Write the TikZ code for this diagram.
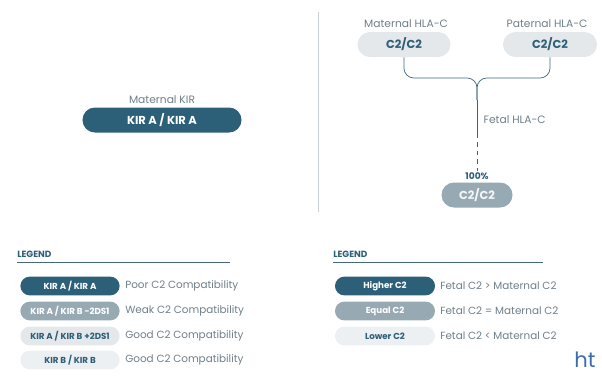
\documentclass[tikz,border=0pt]{standalone}
\usepackage{fontspec}
\setmainfont{Poppins}
\usetikzlibrary{shapes.misc}

\definecolor{teal}{HTML}{2C5F78}
\definecolor{midgray}{HTML}{97A9B3}
\definecolor{lightgray}{HTML}{E4E8EB}
\definecolor{palegray}{HTML}{EDF0F2}
\definecolor{textgray}{HTML}{6F7F89}
\definecolor{rulegray}{HTML}{C9D1D6}
\definecolor{linkblue}{HTML}{3C6EAE}

\tikzset{
	pill/.style = {rounded rectangle, inner sep=0pt, font=\bfseries},
	bigpill/.style = {pill, minimum height=0.625cm, font=\fontsize{8.2}{9}\selectfont\bfseries},
	keypill/.style = {pill, minimum height=0.47cm, minimum width=2.48cm, font=\fontsize{6.2}{7}\selectfont\bfseries},
	caption/.style = {text=textgray, font=\fontsize{7.6}{9}\selectfont, inner sep=1pt},
	keytext/.style = {text=textgray, font=\fontsize{7.4}{9}\selectfont, anchor=west, inner sep=0pt},
	keyhead/.style = {text=teal, font=\fontsize{6.4}{7}\selectfont\bfseries, anchor=south west, inner sep=0pt},
	link/.style = {draw=teal!80!gray, line width=0.5pt}
}

\begin{document}
\begin{tikzpicture}[x=0.025cm, y=-0.025cm]
	\useasboundingbox (0,0) rectangle (602,376);

	% maternal KIR
	\node[caption] (kirlabel) at (162,100) {Maternal KIR};
	\node[bigpill, fill=teal, text=white, minimum width=3.975cm] (kir) at (162,120) {KIR A / KIR A};

	% divider
	\draw[rulegray, line width=0.6pt] (318,12) -- (318,212);

	% parental HLA-C
	\node[caption] (mlabel) at (406,24) {Maternal HLA-C};
	\node[bigpill, fill=lightgray, text=teal, minimum width=2.325cm] (mhla) at (404,44.5) {C2/C2};
	\node[caption] (plabel) at (547,24) {Paternal HLA-C};
	\node[bigpill, fill=lightgray, text=teal, minimum width=2.35cm] (phla) at (550,44.5) {C2/C2};

	\coordinate (split) at (477,78);
	\coordinate (fork) at (477,100);
	\coordinate (dashtop) at (477,134);
	\draw[link, rounded corners=7pt] (mhla.south) |- (split) -- (fork);
	\draw[link, rounded corners=7pt] (phla.south) |- (split) -- (fork);
	\draw[link] (fork) -- (dashtop);
	\node[caption, anchor=west] (flabel) at (482,120) {Fetal HLA-C};

	% fetal HLA-C
	\node[text=teal, font=\fontsize{6.5}{8}\selectfont\bfseries, inner sep=1pt] (pct) at (477,176) {100\%};
	\draw[link, dash pattern=on 3pt off 3pt] (dashtop) -- (pct.north);
	\node[bigpill, fill=midgray, text=white!90!midgray, minimum width=1.775cm] (fhla) at (477,195) {C2/C2};

	% KIR legend
	\node[keyhead] (kirhead) at (17,258) {LEGEND};
	\draw[teal!70!gray, line width=0.5pt] (17,262) -- (230,262);
	\node[keypill, fill=teal, text=white] (kaa) at (70,286) {KIR A / KIR A};
	\node[keypill, fill=midgray, text=white] (kabm) at (70,311) {KIR A / KIR B -2DS1};
	\node[keypill, fill=lightgray, text=teal] (kabp) at (70,336) {KIR A / KIR B +2DS1};
	\node[keypill, fill=palegray, text=teal] (kbb) at (70,360) {KIR B / KIR B};
	\node[keytext] at (125,286) {Poor C2 Compatibility};
	\node[keytext] at (125,311) {Weak C2 Compatibility};
	\node[keytext] at (125,336) {Good C2 Compatibility};
	\node[keytext] at (125,360) {Good C2 Compatibility};

	% HLA-C legend
	\node[keyhead] (hlahead) at (333,258) {LEGEND};
	\draw[teal!70!gray, line width=0.5pt] (333,262) -- (543,262);
	\node[keypill, fill=teal, text=white, minimum width=2.5cm] (higher) at (385,286) {Higher C2};
	\node[keypill, fill=midgray, text=white, minimum width=2.5cm] (equal) at (385,311) {Equal C2};
	\node[keypill, fill=palegray, text=teal, minimum width=2.5cm] (lower) at (385,336) {Lower C2};
	\node[keytext] at (440,286) {Fetal C2 > Maternal C2};
	\node[keytext] at (440,311) {Fetal C2 = Maternal C2};
	\node[keytext] at (440,336) {Fetal C2 < Maternal C2};

	\node[text=linkblue, font=\fontsize{15}{16}\selectfont, anchor=base west, inner sep=0pt] (url) at (574,367) {ht};
\end{tikzpicture}
\end{document}
